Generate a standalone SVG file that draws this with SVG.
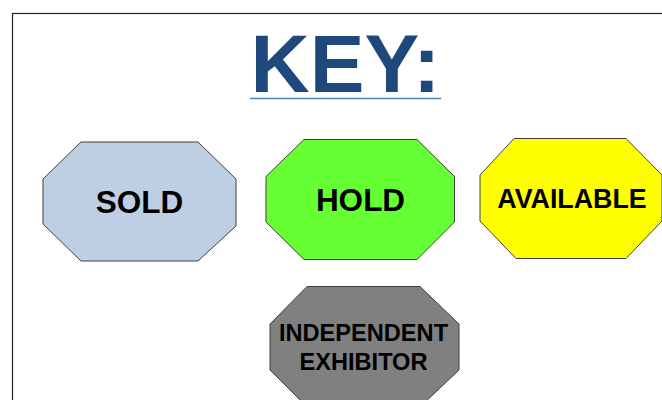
<svg xmlns="http://www.w3.org/2000/svg" width="662" height="400" viewBox="0 0 662 400">
<style>
.oct{stroke:#404040;stroke-width:1}
.lbl{font-family:"Liberation Sans",Arial,sans-serif;font-weight:bold;fill:#000;text-anchor:middle}
</style>
<rect x="0" y="0" width="662" height="400" fill="#fff"/>
<rect x="12.5" y="13.5" width="700" height="420" fill="none" stroke="#222" stroke-width="1.2"/>
<g id="title">
<text x="345.5" y="92" font-family="Liberation Sans, Arial, sans-serif" font-weight="bold" font-size="82" fill="#1F497D" text-anchor="middle">KEY:</text>
<line x1="250" y1="98.5" x2="441" y2="98.5" stroke="#4F81BD" stroke-width="1.5"/>
</g>
<g id="sold">
<polygon class="oct" fill="#BFCFE3" points="81,142 198,142 236,179 236,226 198,261 81,261 43,224 43,179"/>
<text class="lbl" x="139.5" y="213" font-size="31.5">SOLD</text>
</g>
<g id="hold">
<polygon class="oct" fill="#66FF33" points="304,139.5 417,139.5 454.5,176.5 454.5,222 417,259.5 304,259.5 266,222 266,176.5"/>
<text class="lbl" x="360.5" y="211" font-size="31.5">HOLD</text>
</g>
<g id="available">
<polygon class="oct" fill="#FFFF00" points="514,138.5 626,138.5 662,175 662,221 626,258.5 516,258.5 480,221 480,175"/>
<text class="lbl" x="572" y="207.5" font-size="26.8">AVAILABLE</text>
</g>
<g id="independent">
<polygon class="oct" fill="#808080" points="307,286.5 420,286.5 459,324 459,370 420,407 307,407 270,370 270,324"/>
<text class="lbl" x="363.5" y="341" font-size="23.6">INDEPENDENT</text>
<text class="lbl" x="363.5" y="369.5" font-size="23.6">EXHIBITOR</text>
</g>
<g id="connectors"></g>
</svg>
